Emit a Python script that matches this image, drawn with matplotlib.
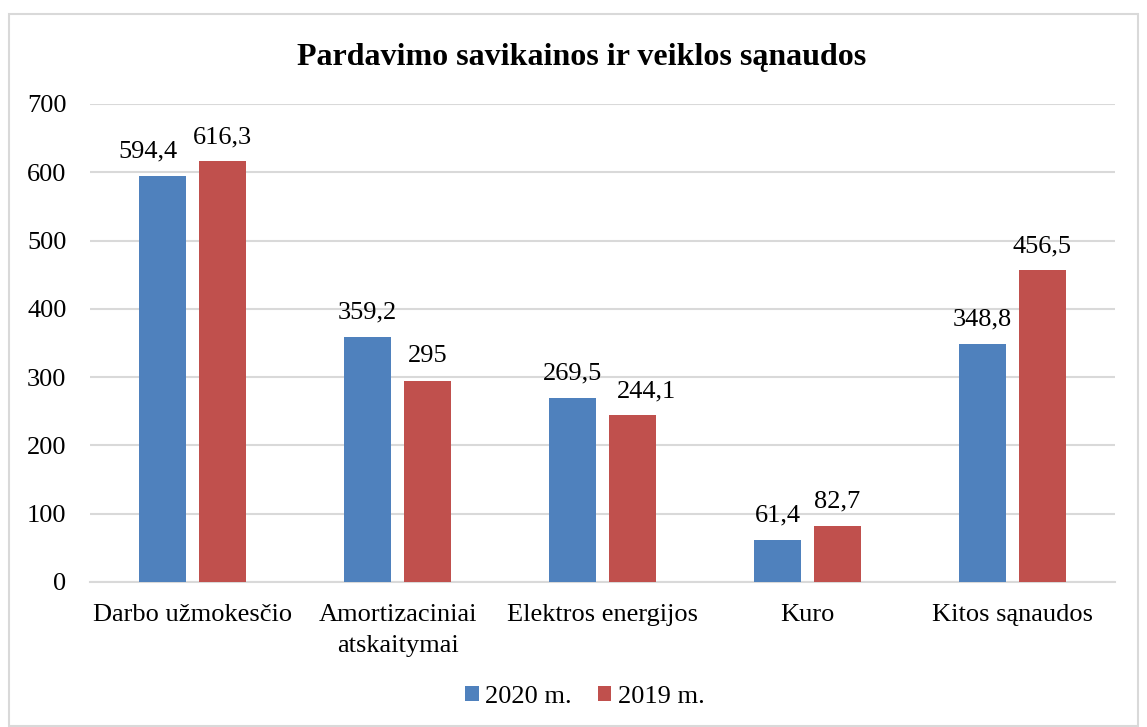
import matplotlib.pyplot as plt
import numpy as np
from matplotlib.patches import Rectangle

categories = ["Darbo užmokesčio", "Amortizaciniai\natskaitymai", "Elektros energijos", "Kuro", "Kitos sąnaudos"]
v2020 = [594.4, 359.2, 269.5, 61.4, 348.8]
v2019 = [616.3, 295, 244.1, 82.7, 456.5]
labels2020 = ["594,4", "359,2", "269,5", "61,4", "348,8"]
labels2019 = ["616,3", "295", "244,1", "82,7", "456,5"]
series_names = ["2020 m.", "2019 m."]
yticks = [0, 100, 200, 300, 400, 500, 600, 700]

# horizontal nudges of data labels (points), as placed in the original
nudge2020 = [-11, 0, 0, 0, 0]
nudge2019 = [0, 0, 10, 0, 0]

plt.rcParams['font.family'] = ['Liberation Serif', 'DejaVu Serif']
blue = "#4F81BD"
red = "#C0504D"
fs = 19

fig = plt.figure(figsize=(11.47, 7.27), dpi=100)
fig.patches.append(Rectangle((9/1147, 0.001), (1138-9)/1147, (727-14)/727 - 0.001,
                             transform=fig.transFigure, fill=False, edgecolor="#d9d9d9", linewidth=1.5))
ax = fig.add_axes([90/1147, 1 - 582/727, (1115-90)/1147, (582-104)/727])

x = np.arange(len(categories))
w = 0.23
off = 0.145
b1 = ax.bar(x - off, v2020, w, color=blue, label=series_names[0], zorder=3)
b2 = ax.bar(x + off, v2019, w, color=red, label=series_names[1], zorder=3)
for rect, lab, dx in zip(b1, labels2020, nudge2020):
    ax.annotate(lab, (rect.get_x() + rect.get_width()/2, rect.get_height()), xytext=(dx, 9.5),
                textcoords="offset points", ha="center", va="bottom", fontsize=fs, zorder=4)
for rect, lab, dx in zip(b2, labels2019, nudge2019):
    ax.annotate(lab, (rect.get_x() + rect.get_width()/2, rect.get_height()), xytext=(dx, 9.5),
                textcoords="offset points", ha="center", va="bottom", fontsize=fs, zorder=4)

ax.set_xlim(-0.5, len(categories) - 0.5)
ax.set_ylim(0, 700)
ax.set_yticks(yticks)
ax.set_yticklabels([str(t) for t in yticks], fontsize=fs)
ax.set_xticks(x)
ax.set_xticklabels(categories, fontsize=fs, linespacing=1.5)
ax.tick_params(axis="x", length=0, pad=16)
ax.tick_params(axis="y", length=0, pad=17)
ax.grid(axis="y", color="#d9d9d9", linewidth=1.5, zorder=0)
for s in ["top", "right", "left"]:
    ax.spines[s].set_visible(False)
ax.spines["bottom"].set_color("#d9d9d9")
ax.spines["bottom"].set_linewidth(1.5)

fig.text(582/1147, 1 - 57/727, "Pardavimo savikainos ir veiklos sąnaudos", ha="center", va="center",
         fontsize=23, fontweight="bold")
fig.legend(handles=[b1, b2], labels=series_names, loc="center", bbox_to_anchor=(585/1147, 1 - 697/727),
           ncol=2, frameon=False, fontsize=fs, handlelength=0.5, handleheight=0.5, handletextpad=0.25,
           columnspacing=1.0)

fig.savefig("out.png", dpi=100)
